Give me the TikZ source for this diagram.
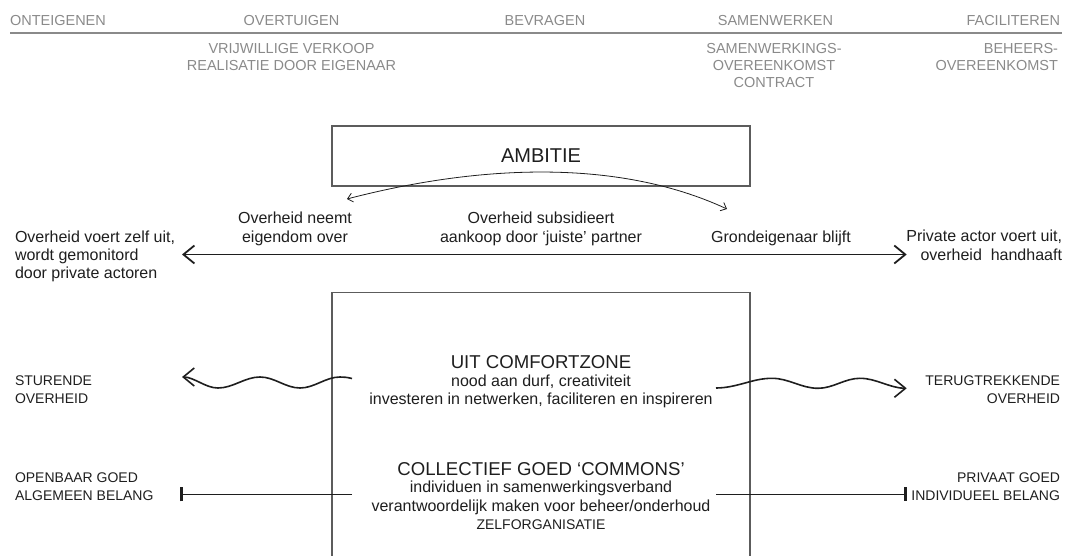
\documentclass[tikz,border=0pt]{standalone}
\usepackage{fontspec}
\setmainfont{Liberation Sans}
\usetikzlibrary{arrows.meta}
\definecolor{topgray}{HTML}{8A8A8A}
\definecolor{ink}{HTML}{1E1E1E}
\definecolor{boxgray}{HTML}{5C5C5C}
\begin{document}
\begin{tikzpicture}[x=1pt,y=-1pt,
  every node/.style={inner sep=0pt, outer sep=0pt},
  toplbl/.style={font=\fontsize{14.5}{16.7}\selectfont, text=topgray,
    execute at begin node=\strut, execute at end node=\strut},
  lower/.style={font=\fontsize{16}{18.3}\selectfont, text=ink,
    execute at begin node=\strut, execute at end node=\strut},
  caps/.style={font=\fontsize{14}{18.3}\selectfont, text=ink,
    execute at begin node=\strut, execute at end node=\strut},
  heading/.style={font=\fontsize{18.6}{21}\selectfont, text=ink,
    execute at begin node=\strut, execute at end node=\strut},
  boxnode/.style={draw=boxgray, line width=1.3pt, font=\fontsize{20}{22}\selectfont, text=ink},
  boxline/.style={draw=boxgray, line width=1.3pt},
  topline/.style={draw=topgray, line width=1.6pt},
  mainarrow/.style={draw=ink, line width=1.8pt,
    {Straight Barb[length=11pt,width=18pt]}-{Straight Barb[length=11pt,width=18pt]}},
  curvearrow/.style={draw=ink, line width=0.8pt,
    {Straight Barb[length=5pt,width=9pt]}-{Straight Barb[length=5pt,width=9pt]}},
  wavearrow/.style={draw=ink, line width=1.6pt, -{Straight Barb[length=11pt,width=18pt]}},
  barline/.style={draw=ink, line width=1.6pt, -{Bar[width=14pt,line width=3pt]}}
]
\useasboundingbox (0,0) rectangle (1090,556);

% top row
\node[toplbl, anchor=west] (onteig) at (10,22) {ONTEIGENEN};
\node[toplbl] (overt) at (291.5,22) {OVERTUIGEN};
\node[toplbl] (bevr) at (545,22) {BEVRAGEN};
\node[toplbl] (samen) at (775.5,22) {SAMENWERKEN};
\node[toplbl, anchor=east] (facil) at (1060,22) {FACILITEREN};
\coordinate (tlL) at (10,33.3);
\coordinate (tlR) at (1062,33.3);
\draw[topline] (tlL) -- (tlR);
\node[toplbl, align=center] (overtsub) at (291.5,59.5) {VRIJWILLIGE VERKOOP\\REALISATIE DOOR EIGENAAR};
\node[toplbl, align=center] (samensub) at (774,68) {SAMENWERKINGS-\\OVEREENKOMST\\CONTRACT};
\node[toplbl, align=right, anchor=east] (facilsub) at (1058,59.5) {BEHEERS-\\OVEREENKOMST};

% ambitie
\node[boxnode, minimum width=418pt, minimum height=60pt] (ambitie) at (541,156) {AMBITIE};
\coordinate (cl) at (347,199);
\coordinate (cr) at (727,209);
\draw[curvearrow] (cl) .. controls (473.5,166) and (615,157) .. (cr);

\node[lower, align=center] (neemt) at (295,230) {Overheid neemt\\eigendom over};
\node[lower, align=center] (subs) at (541,230) {Overheid subsidieert\\aankoop door ‘juiste’ partner};
\node[lower] (grond) at (781,239) {Grondeigenaar blijft};
\node[lower, align=left, anchor=west] (leftlbl) at (15,257.5) {Overheid voert zelf uit,\\wordt gemonitord\\door private actoren};
\node[lower, align=right, anchor=east] (rightlbl) at (1062,248) {Private actor voert uit,\\overheid\ \ handhaaft};
\coordinate (ma1) at (182,254.5);
\coordinate (ma2) at (906.7,254.5);
\draw[mainarrow] (ma1) -- (ma2);

% big box (open at the bottom)
\draw[boxline] (332,556) -- (332,292.3) -- (750,292.3) -- (750,556);

\node[heading] (uit) at (541,364.5) {UIT COMFORTZONE};
\node[lower, align=center] (uitsub) at (541,392.4) {nood aan durf, creativiteit\\investeren in netwerken, faciliteren en inspireren};
\node[heading] (coll) at (541,471) {COLLECTIEF GOED ‘COMMONS’};
\node[lower, align=center] (collsub) at (541,499) {individuen in samenwerkingsverband\\verantwoordelijk maken voor beheer/onderhoud};
\node[caps] (zelf) at (541,525.5) {ZELFORGANISATIE};

% side labels
\node[caps, align=left, anchor=west] (sturende) at (15,392.5) {STURENDE\\OVERHEID};
\node[caps, align=left, anchor=west] (openbaar) at (15,489.5) {OPENBAAR GOED\\ALGEMEEN BELANG};
\node[caps, align=right, anchor=east] (terug) at (1060,392.5) {TERUGTREKKENDE\\OVERHEID};
\node[caps, align=right, anchor=east] (privaat) at (1060,489.5) {PRIVAAT GOED\\INDIVIDUEEL BELANG};

% wavy arrows
\coordinate (wL0) at (352,378.5);
\coordinate (wLtip) at (182,377);
\draw[wavearrow] (wL0) .. controls (347,377.3) and (344,377) .. (340,377)
  cos (320,382.5) sin (300,388) cos (280,382.5) sin (260,377)
  cos (239,382.5) sin (218,388) cos (200,382.5) sin (wLtip);
\coordinate (wR0) at (716,388);
\coordinate (wRtip) at (906.7,388.3);
\draw[wavearrow] (wR0) cos (744,383.3) sin (772,378.3) cos (795,383.3) sin (818,388.3)
  cos (839,383.3) sin (860,378.3) cos (883,383.3) sin (wRtip);

% bar lines
\coordinate (bL0) at (352,494.3);
\coordinate (bL1) at (180,494.3);
\draw[barline] (bL0) -- (bL1);
\coordinate (bR0) at (716,494.3);
\coordinate (bR1) at (906.7,494.3);
\draw[barline] (bR0) -- (bR1);
\end{tikzpicture}
\end{document}
